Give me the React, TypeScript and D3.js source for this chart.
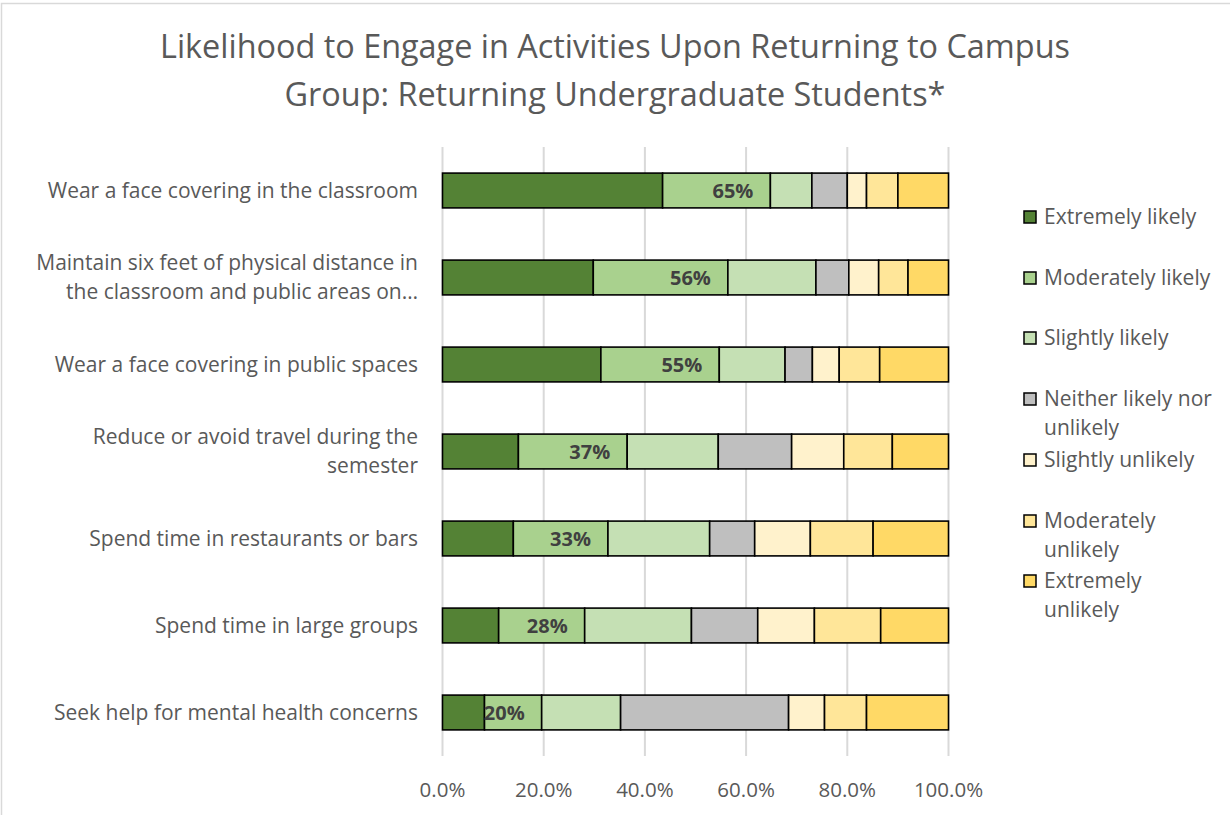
import React from "react";
import * as d3 from "d3";

const categories: string[][] = [
  ["Wear a face covering in the classroom"],
  ["Maintain six feet of physical distance in", "the classroom and public areas on…"],
  ["Wear a face covering in public spaces"],
  ["Reduce or avoid travel during the", "semester"],
  ["Spend time in restaurants or bars"],
  ["Spend time in large groups"],
  ["Seek help for mental health concerns"],
];

const seriesNames: string[][] = [
  ["Extremely likely"],
  ["Moderately likely"],
  ["Slightly likely"],
  ["Neither likely nor", "unlikely"],
  ["Slightly unlikely"],
  ["Moderately", "unlikely"],
  ["Extremely", "unlikely"],
];

const colors = ["#548235", "#a9d18e", "#c5e0b4", "#bfbfbf", "#fff2cc", "#ffe699", "#ffd966"];

// percentages per category (rows) per response (columns)
const extremelyLikely = [43.5, 29.8, 31.3, 15.0, 14.0, 11.1, 8.3];
const moderatelyLikely = [21.3, 26.6, 23.4, 21.5, 18.7, 17.0, 11.3];
const slightlyLikely = [8.2, 17.4, 13.0, 18.0, 20.1, 21.1, 15.6];
const neither = [7.0, 6.5, 5.4, 14.5, 8.9, 13.1, 33.2];
const slightlyUnlikely = [3.8, 5.9, 5.3, 10.3, 11.0, 11.2, 7.1];
const moderatelyUnlikely = [6.2, 5.8, 8.0, 9.6, 12.4, 13.1, 8.3];
const extremelyUnlikely = [10.0, 8.0, 13.6, 11.1, 14.9, 13.4, 16.2];

const likelyLabels = ["65%", "56%", "55%", "37%", "33%", "28%", "20%"];

const xTicks = [0, 20, 40, 60, 80, 100];

const FONT = "'Open Sans', Lato, sans-serif";

export default function App() {
  const W = 1230, H = 815;
  const left = 442.5, right = 948.5, top = 147, bottom = 756;
  const x = d3.scaleLinear().domain([0, 100]).range([left, right]);
  const y = d3.scaleBand<number>().domain(d3.range(categories.length)).range([top, bottom]).paddingInner(0.6).paddingOuter(0.3);

  const series = [extremelyLikely, moderatelyLikely, slightlyLikely, neither, slightlyUnlikely, moderatelyUnlikely, extremelyUnlikely];
  const rows = categories.map((_, i) => {
    const obj: any = { i };
    series.forEach((s, k) => (obj["s" + k] = s[i]));
    return obj;
  });
  const stack = d3.stack<any>().keys(series.map((_, k) => "s" + k))(rows);

  const legendY = [217, 278, 338, 399, 460, 521, 581];

  return (
    <svg width={W} height={H} style={{ position: "absolute", left: 0, top: 0, background: "#fff" }} fontFamily={FONT}>
      <rect x={1.5} y={3.5} width={W + 10} height={H + 10} fill="#fff" stroke="#d9d9d9" strokeWidth={1.5} />
      <text x={615} y={58} textAnchor="middle" fontSize={32.4} fill="#595959">Likelihood to Engage in Activities Upon Returning to Campus</text>
      <text x={615} y={106} textAnchor="middle" fontSize={32.4} fill="#595959">Group: Returning Undergraduate Students*</text>

      {xTicks.map((t) => (
        <g key={t}>
          <line x1={x(t)} x2={x(t)} y1={top} y2={bottom} stroke="#d9d9d9" strokeWidth={2} />
          <text x={x(t)} y={797} textAnchor="middle" fontSize={20.5} fill="#595959">{t.toFixed(1)}%</text>
        </g>
      ))}

      {stack.map((layer, k) => (
        <g key={k}>
          {layer.map((d, i) => (
            <rect key={i} x={x(d[0])} y={y(i)!} width={x(d[1]) - x(d[0])} height={y.bandwidth()} fill={colors[k]} stroke="#000" strokeWidth={1.6} />
          ))}
        </g>
      ))}

      {categories.map((_, i) => (
        <text key={i} x={x(extremelyLikely[i] + moderatelyLikely[i]) - 17} y={y(i)! + y.bandwidth() / 2 + 7} textAnchor="end" fontSize={20} fontWeight="bold" fill="#404040">{likelyLabels[i]}</text>
      ))}

      {categories.map((lines, i) => {
        const cy = y(i)! + y.bandwidth() / 2;
        const lh = 29;
        const y0 = cy - ((lines.length - 1) * lh) / 2 + 7;
        return (
          <text key={i} textAnchor="end" fontSize={21} fill="#595959">
            {lines.map((l, j) => (
              <tspan key={j} x={418} y={y0 + j * lh}>{l}</tspan>
            ))}
          </text>
        );
      })}

      {seriesNames.map((lines, k) => (
        <g key={k}>
          <rect x={1024} y={legendY[k] - 6} width={12} height={12} fill={colors[k]} stroke="#000" strokeWidth={1.5} />
          <text fontSize={21} fill="#595959">
            {lines.map((l, j) => (
              <tspan key={j} x={1044} y={legendY[k] + 7 + j * 29}>{l}</tspan>
            ))}
          </text>
        </g>
      ))}
    </svg>
  );
}
